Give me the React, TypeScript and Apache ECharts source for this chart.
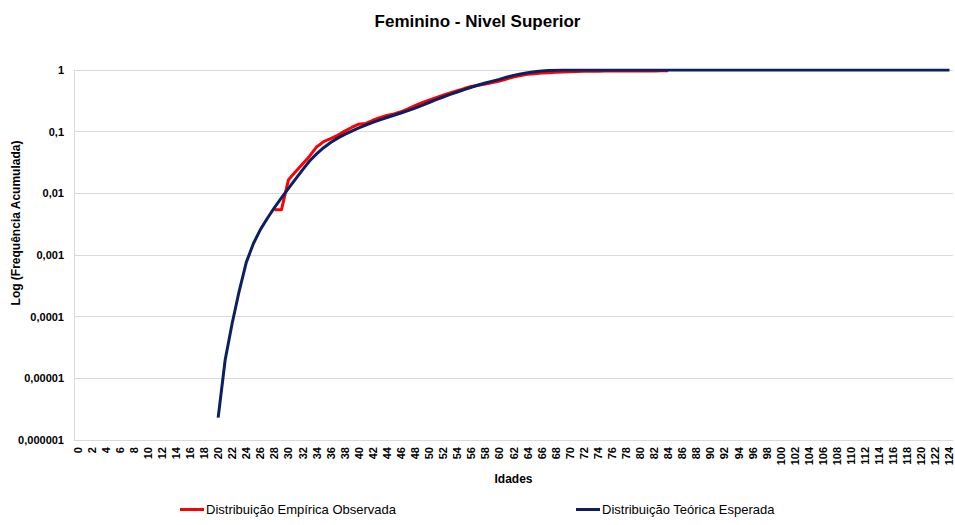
import React, { useEffect, useRef } from "react";
import * as echarts from "echarts";

const titleText = "Feminino - Nivel Superior";
const yAxisTitle = "Log (Frequência Acumulada)";
const xAxisTitle = "Idades";
const empiricalName = "Distribuição Empírica Observada";
const theoreticalName = "Distribuição Teórica Esperada";

const ages: string[] = Array.from({ length: 125 }, (_, i) => String(i));

const yTickLabels: Record<string, string> = {
  "0": "1",
  "-1": "0,1",
  "-2": "0,01",
  "-3": "0,001",
  "-4": "0,0001",
  "-5": "0,00001",
  "-6": "0,000001",
};

// Theoretical (expected) cumulative distribution, ages 20..124
const theoreticalStartAge = 20;
const theoreticalValues = [
  0.0000023, 0.00002, 0.000079, 0.000263, 0.00076, 0.00152, 0.00258, 0.00395, 0.00585, 0.00841,
  0.012, 0.017, 0.024, 0.0335, 0.0437, 0.055, 0.0668, 0.0785, 0.0902, 0.1023,
  0.1148, 0.1274, 0.1413, 0.1549, 0.1698, 0.1849, 0.2009, 0.2188, 0.2415, 0.2679,
  0.2972, 0.3296, 0.3648, 0.4018, 0.4395, 0.4808, 0.5248, 0.5702, 0.6166, 0.6607,
  0.7047, 0.765, 0.818, 0.863, 0.9, 0.933, 0.96, 0.98, 0.99, 0.996,
  0.999, 1, 1, 1, 1, 1, 1, 1, 1, 1,
  1, 1, 1, 1, 1, 1, 1, 1, 1, 1,
  1, 1, 1, 1, 1, 1, 1, 1, 1, 1,
  1, 1, 1, 1, 1, 1, 1, 1, 1, 1,
  1, 1, 1, 1, 1, 1, 1, 1, 1, 1,
  1, 1, 1, 1, 1,
];

// Empirical (observed) cumulative distribution, ages 28..84
const empiricalStartAge = 28;
const empiricalValues = [
  0.0054, 0.0054, 0.0166, 0.0223, 0.03, 0.04, 0.0565, 0.069, 0.077, 0.087,
  0.102, 0.117, 0.132, 0.136, 0.153, 0.169, 0.183, 0.194, 0.21, 0.235,
  0.265, 0.295, 0.325, 0.356, 0.389, 0.424, 0.46, 0.5, 0.54, 0.567,
  0.593, 0.627, 0.664, 0.715, 0.77, 0.81, 0.85, 0.87, 0.89, 0.905,
  0.917, 0.93, 0.94, 0.947, 0.952, 0.955, 0.957, 0.959, 0.96, 0.962,
  0.963, 0.964, 0.965, 0.966, 0.967, 0.968, 0.97,
];

function toSeries(start: number, values: number[]): (number | null)[] {
  return ages.map((_, i) =>
    i >= start && i - start < values.length ? values[i - start] : null
  );
}

const FONT = "'Liberation Sans', Arial, sans-serif";

export default function App() {
  const ref = useRef<HTMLDivElement>(null);
  useEffect(() => {
    if (!ref.current) return;
    const chart = echarts.init(ref.current, undefined, { renderer: "svg" });
    chart.setOption({
      animation: false,
      backgroundColor: "#ffffff",
      title: {
        text: titleText,
        left: "center",
        top: 8,
        textStyle: { fontFamily: FONT, fontSize: 17, fontWeight: "bold", color: "#000" },
      },
      legend: {
        bottom: 4,
        left: 175,
        itemGap: 180,
        itemWidth: 24,
        itemHeight: 3,
        icon: "rect",
        textStyle: { fontFamily: FONT, fontSize: 13, color: "#000", padding: [0, 0, 0, -3] },
        data: [empiricalName, theoreticalName],
      },
      grid: { left: 74, right: 2, top: 70, bottom: 85, containLabel: false },
      xAxis: {
        type: "category",
        data: ages,
        boundaryGap: true,
        name: xAxisTitle,
        nameLocation: "middle",
        nameGap: 30,
        nameTextStyle: { fontFamily: FONT, fontSize: 12, fontWeight: "bold", color: "#000" },
        axisLine: { show: true, lineStyle: { color: "#d9d9d9", width: 1 } },
        axisTick: { show: false },
        axisLabel: {
          interval: 1,
          rotate: 90,
          margin: 7,
          fontFamily: FONT,
          fontSize: 11,
          fontWeight: "bold",
          color: "#000",
        },
        splitLine: { show: false },
      },
      yAxis: {
        type: "log",
        logBase: 10,
        min: 0.000001,
        max: 1,
        axisLine: { show: true, lineStyle: { color: "#d9d9d9", width: 1 } },
        axisTick: { show: false },
        splitLine: { show: true, lineStyle: { color: "#d9d9d9", width: 1 } },
        axisLabel: {
          margin: 10,
          fontFamily: FONT,
          fontSize: 11,
          fontWeight: "bold",
          color: "#000",
          formatter: (v: number) => {
            const k = String(Math.round(Math.log10(v)));
            return yTickLabels[k] ?? "";
          },
        },
      },
      graphic: [
        {
          type: "text",
          x: 16,
          y: 223,
          rotation: Math.PI / 2,
          style: {
            text: yAxisTitle,
            fontFamily: FONT,
            fontSize: 12,
            fontWeight: "bold",
            fill: "#000",
            align: "center",
            verticalAlign: "middle",
          },
        },
      ],
      series: [
        {
          name: empiricalName,
          type: "line",
          data: toSeries(empiricalStartAge, empiricalValues),
          showSymbol: false,
          symbol: "none",
          smooth: false,
          lineStyle: { color: "#ff0000", width: 3 },
          itemStyle: { color: "#ff0000" },
        },
        {
          name: theoreticalName,
          type: "line",
          data: toSeries(theoreticalStartAge, theoreticalValues),
          showSymbol: false,
          symbol: "none",
          smooth: false,
          lineStyle: { color: "#0a2060", width: 3 },
          itemStyle: { color: "#0a2060" },
        },
      ],
    });
    return () => chart.dispose();
  }, []);
  return (
    <div
      ref={ref}
      style={{ position: "fixed", left: 0, top: 0, width: 955, height: 525 }}
    />
  );
}
